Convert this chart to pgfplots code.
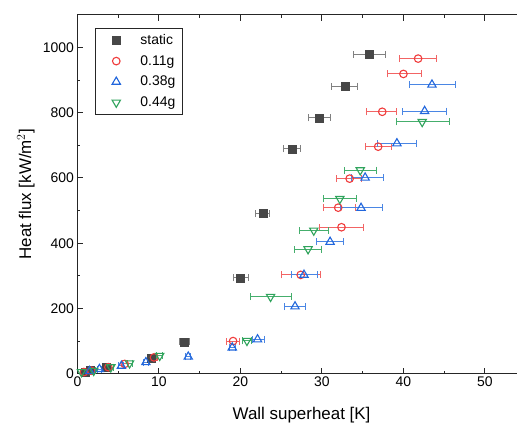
\documentclass[border=0pt]{standalone}
\usepackage{fontspec}
\setmainfont{Liberation Sans}
\usepackage{pgfplots}
\pgfplotsset{compat=1.18}
\usepackage{pgfplotstable}

\definecolor{cstatic}{HTML}{474747}
\definecolor{estatic}{HTML}{808080}
\definecolor{cred}{HTML}{F03C3C}
\definecolor{ered}{HTML}{F26464}
\definecolor{cblue}{HTML}{2166DC}
\definecolor{eblue}{HTML}{4A86E4}
\definecolor{cgreen}{HTML}{2FA35C}
\definecolor{egreen}{HTML}{45AE6C}

% x = wall superheat, y = heat flux, em/ep = error minus/plus in x
\pgfplotstableread{
x    y    em   ep
0.9  5    0.2  0.2
1.6  10   0.2  0.2
3.5  20   0.3  0.3
9.0  49   0.4  0.4
13.1 98   0.6  0.7
20.0 294  0.9  1.0
22.8 491  0.9  0.8
26.4 689  1.1  1.0
29.7 784  1.3  1.4
32.9 882  1.7  1.5
35.8 979  1.9  2.0
}\tstatic

\pgfplotstableread{
x    y    em   ep
0.8  5    0.1  0.1
1.7  9    0.2  0.2
3.8  20   0.3  0.3
5.8  30   0.3  0.3
9.4  50   0.4  0.4
19.1 100  0.8  0.8
27.4 303  2.4  2.4
32.4 449  2.7  2.7
32.0 509  1.8  2.1
33.4 598  1.6  1.5
36.9 696  1.6  1.6
37.4 803  1.9  1.8
40.0 919  2.0  2.2
41.8 966  2.3  2.2
}\tlow

\pgfplotstableread{
x    y    em   ep
1.5  8    0.2  0.2
2.7  14   0.2  0.2
5.4  24   0.3  0.3
8.4  35   0.3  0.3
13.6 52   0.3  0.3
19.0 80   0.4  0.4
22.1 105  0.6  0.9
26.7 206  1.3  1.3
27.8 303  1.5  1.7
31.0 404  1.7  1.6
34.8 508  2.5  2.6
35.3 601  1.7  2.3
39.2 706  2.4  2.4
42.6 805  2.7  2.7
43.5 886  2.8  2.9
}\tmid

\pgfplotstableread{
x    y    em   ep
0.5  5    0.1  0.1
2.0  9    0.2  0.2
4.1  20   0.3  0.3
6.4  32   0.3  0.3
10.1 55   0.4  0.4
20.8 101  0.6  0.6
23.7 236  2.5  2.6
28.3 382  1.7  1.7
29.0 439  1.7  1.8
32.2 536  2.0  2.1
34.7 624  1.9  2.0
42.3 772  3.2  3.3
}\thigh

\begin{document}
\begin{tikzpicture}
\useasboundingbox (-77.4bp,-51.3bp) rectangle (439.6bp,373.7bp);
\clip (-77.4bp,-51.3bp) rectangle (439.6bp,373.7bp);
\begin{axis}[
    at={(0,0)}, anchor=south west,
    scale only axis,
    width=448.3bp, height=358.8bp,
    xmin=0, xmax=55, ymin=0, ymax=1100,
    axis x line=box, axis y line=left,
    axis line style={-, line width=1.1bp, black!85},
    xtick distance=10, ytick distance=200,
    minor x tick num=1, minor y tick num=1,
    tick align=inside,
    major tick length=6bp, minor tick length=3bp,
    tick style={line width=1bp, black!85},
    /pgf/number format/assume math mode=true,
    /pgf/number format/1000 sep={},
    ticklabel style={font=\fontsize{14}{16}\selectfont},
    xlabel={Wall superheat [K]},
    ylabel={Heat flux [kW/m$^2$]},
    label style={font=\fontsize{17}{20}\selectfont},
    xlabel style={at={(axis description cs:0.5,-0.115)}, anchor=center},
    ylabel style={at={(axis description cs:-0.1147,0.5)}, anchor=center},
    legend style={at={(0.039,0.9635)}, anchor=north west, draw=black!85,
        line width=0.8bp, font=\fontsize{14}{16}\selectfont,
        nodes={inner sep=2bp},
        row sep=5.5bp, column sep=0bp, inner xsep=5bp, inner ysep=4bp},
    /tikz/every odd column/.append style={column sep=18bp},
    legend image code/.code={%
        \path[draw=none, fill=none] (-16bp,-4bp) rectangle (4bp,4bp);
        \draw[#1] plot coordinates {(0bp,0bp)};},
    legend cell align=left,
    error bars/x dir=both, error bars/x explicit,
]
\addplot[only marks, mark=square*, mark size=4bp, color=cstatic,
    error bars/error bar style={line width=1bp, estatic},
    error bars/error mark options={rotate=90, mark size=3.5bp, line width=1bp, estatic}]
    table[x=x, y=y, x error minus=em, x error plus=ep] {\tstatic};
\addlegendentry{static}
\addplot[only marks, mark=o, mark size=3.8bp, color=cred, mark options={line width=1.1bp},
    error bars/error bar style={line width=1bp, ered},
    error bars/error mark options={rotate=90, mark size=3.5bp, line width=1bp, ered}]
    table[x=x, y=y, x error minus=em, x error plus=ep] {\tlow};
\addlegendentry{0.11g}
\addplot[only marks, mark=triangle, mark size=4.8bp, color=cblue, mark options={line width=1.1bp},
    error bars/error bar style={line width=1bp, eblue},
    error bars/error mark options={rotate=90, mark size=3.5bp, line width=1bp, eblue}]
    table[x=x, y=y, x error minus=em, x error plus=ep] {\tmid};
\addlegendentry{0.38g}
\addplot[only marks, mark=triangle, mark size=4.8bp, color=cgreen, mark options={rotate=180, line width=1.1bp},
    error bars/error bar style={line width=1bp, egreen},
    error bars/error mark options={rotate=90, mark size=3.5bp, line width=1bp, egreen}]
    table[x=x, y=y, x error minus=em, x error plus=ep] {\thigh};
\addlegendentry{0.44g}
\end{axis}
\end{tikzpicture}
\end{document}
